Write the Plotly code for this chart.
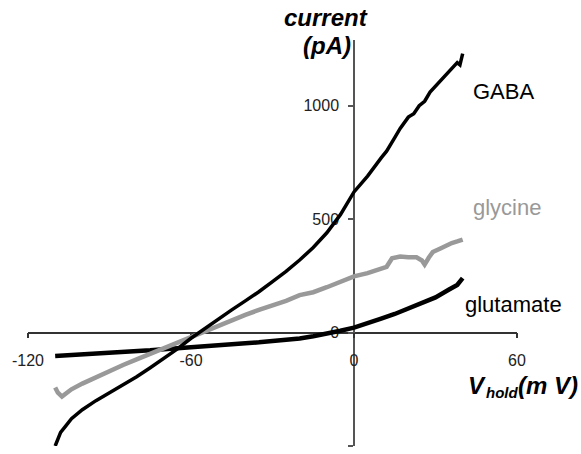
import plotly.graph_objects as go

# ---- data ----
gaba_v = [-110, -109, -108, -106, -104, -100, -95, -90, -85, -80, -75, -70, -65, -60, -55, -50, -45,
          -40, -35, -30, -25, -20, -15, -10, -5, 0, 5, 10, 12, 15, 17, 20, 22, 24, 26, 28, 30, 32, 34,
          36, 38, 39, 40]
gaba_i = [-500, -465, -440, -410, -380, -340, -300, -265, -230, -195, -155, -115, -72, -25, 18, 60, 100,
          140, 180, 225, 270, 320, 375, 440, 520, 620, 690, 770, 800, 860, 900, 950, 965, 1000, 1020,
          1060, 1085, 1110, 1140, 1160, 1190, 1180, 1230]

gly_v = [-110, -109, -107.5, -106, -104, -100, -95, -90, -85, -80, -75, -70, -65, -60, -55, -50, -45,
         -40, -35, -30, -25, -20, -15, -10, -5, 0, 5, 10, 12, 14, 17, 20, 23, 25, 26, 27.5, 29, 32, 34,
         36, 38, 40]
gly_i = [-242, -265, -282, -268, -250, -225, -196, -170, -143, -118, -93, -68, -43, -18, 5, 30, 52,
         78, 100, 118, 140, 165, 178, 200, 225, 248, 262, 285, 290, 328, 335, 332, 332, 318, 300, 330,
         355, 372, 385, 395, 402, 410]

glu_v = [-110, -105, -100, -95, -90, -85, -80, -75, -70, -65, -60, -55, -50, -45, -40, -35, -30, -25,
         -20, -15, -10, -5, 0, 5, 10, 15, 20, 25, 30, 35, 38, 40]
glu_i = [-103, -100, -97, -93, -89, -86, -82, -78, -73, -68, -62, -57, -52, -50, -47, -43, -38, -32,
         -26, -16, -5, 8, 22, 40, 62, 82, 105, 128, 155, 190, 210, 240]

x_ticks = [-120, -60, 0, 60]
y_ticks = [-500, 0, 500, 1000]
x_range = [-120, 60]
y_range = [-500, 1290]

W, H = 581, 454
ML, MR, MT, MB = 28, 64, 40, 8
PW, PH = W - ML - MR, H - MT - MB


def paper(px, py):
    return (px - ML) / PW, (H - MB - py) / PH


FONT = "Liberation Sans, Arial, sans-serif"

fig = go.Figure()
fig.add_trace(go.Scatter(x=glu_v, y=glu_i, mode="lines", line=dict(color="black", width=4.5),
                         showlegend=False))
fig.add_trace(go.Scatter(x=gly_v, y=gly_i, mode="lines", line=dict(color="#999999", width=4.5),
                         showlegend=False))
fig.add_trace(go.Scatter(x=gaba_v, y=gaba_i, mode="lines", line=dict(color="black", width=3.5),
                         showlegend=False))

xpos = (0 - y_range[0]) / (y_range[1] - y_range[0])
ypos = (0 - x_range[0]) / (x_range[1] - x_range[0])

fig.update_layout(
    width=W, height=H,
    margin=dict(l=ML, r=MR, t=MT, b=MB),
    paper_bgcolor="white", plot_bgcolor="white",
    font=dict(family=FONT, size=16, color="#222"),
    xaxis=dict(range=x_range, tickvals=x_ticks, ticktext=[str(v) for v in x_ticks],
               showgrid=False, zeroline=False, showline=True, linecolor="#333", linewidth=1.5,
               ticks="outside", ticklen=5, tickcolor="#333", tickwidth=1.5,
               anchor="free", position=xpos, layer="below traces",
               ticklabelstandoff=8, tickfont=dict(size=16, color="#222")),
    yaxis=dict(range=y_range, tickvals=y_ticks, ticktext=[str(v) for v in y_ticks],
               showgrid=False, zeroline=False, showline=True, linecolor="#555", linewidth=1.5,
               ticks="outside", ticklen=5, tickcolor="#555", tickwidth=1.5,
               anchor="free", position=ypos, layer="below traces",
               ticklabelstandoff=6, tickfont=dict(size=16, color="#222")),
)

anns = [
    ("<b><i>current</i></b>", 326, 18, 24, "black", "center"),
    ("<b><i>(pA)</i></b>", 327, 46, 24, "black", "center"),
    ("<b><i>V</i></b>", 466, 385, 24, "black", "left"),
    ("<b><i>hold</i></b>", 484, 392, 15, "black", "left"),
    ("<b><i>(m V)</i></b>", 580, 385, 24, "black", "right"),
    ("GABA", 503, 92, 22, "black", "center"),
    ("glycine", 507, 207, 22, "#999999", "center"),
    ("glutamate", 513, 305, 22, "black", "center"),
]
for text, px, py, size, color, xa in anns:
    ax_, ay_ = paper(px, py)
    fig.add_annotation(x=ax_, y=ay_, xref="paper", yref="paper", text=text, showarrow=False,
                       xanchor=xa, yanchor="middle",
                       font=dict(family=FONT, size=size, color=color))

fig.write_html("out.html")
